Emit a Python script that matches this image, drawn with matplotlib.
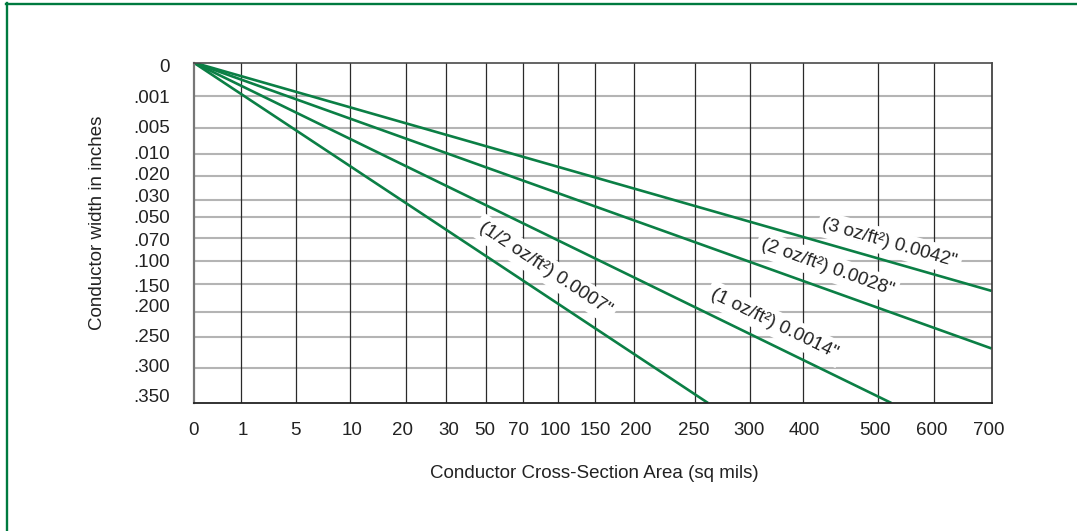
import numpy as np
import matplotlib
matplotlib.use("Agg")
import matplotlib.pyplot as plt
from matplotlib.lines import Line2D

plt.rcParams['font.family'] = ['Liberation Sans', 'DejaVu Sans']

# ---------------- data ----------------
x_values = [0, 1, 5, 10, 20, 30, 50, 70, 100, 150, 200, 250, 300, 400, 500, 600, 700]
x_labels = [str(v) for v in x_values]
y_values = [0, .001, .005, .010, .020, .030, .050, .070, .100, .150, .200, .250, .300, .350]
y_labels = ["0", ".001", ".005", ".010", ".020", ".030", ".050", ".070",
            ".100", ".150", ".200", ".250", ".300", ".350"]

series_names = ['(1/2 oz/ft²) 0.0007"', '(1 oz/ft²) 0.0014"',
                '(2 oz/ft²) 0.0028"', '(3 oz/ft²) 0.0042"']
series_x = [[0, 262], [0, 523], [0, 700], [0, 700]]
series_y = [[0, .350], [0, .350], [0, .268], [0, .162]]

# ---------------- layout (uneven chart scales, in plot pixels) ----------------
x_grid_pos = [0, 47.5, 102.5, 156, 212.1, 252.1, 292, 329.2, 364.3, 401.3, 440.7,
              501.3, 556.1, 609.2, 684.9, 740.7, 797.9]
x_label_pos = [0, 49.3, 102, 158.8, 208.7, 255.2, 291.4, 324.8, 361.9, 401.3, 442.4,
               499.9, 555.4, 610.9, 681.4, 737.9, 795.1]
y_grid_pos = [0, 33.5, 65.8, 91.2, 113.2, 137.5, 154.8, 175.5, 198.2, 221.8, 249.2,
              274.8, 305.8, 340.5]
y_label_pos = [3.2, 34.2, 64.2, 90.2, 111.5, 132.5, 154.2, 176.8, 197.8, 222.5, 243.5,
               273.5, 303.5, 333.5]
label_frac = [0.66, 0.82, 0.785, 0.866]
label_off_px = [22, 20, 21, 18]

W, H = 1077, 531
fig = plt.figure(figsize=(W / 100, H / 100), dpi=100)
fig.patch.set_facecolor('white')
left, right, top, bottom = 193.5, 991.5, 62.5, 403
ax = fig.add_axes([left / W, 1 - bottom / H, (right - left) / W, (bottom - top) / H])


def xf(v):
    return np.interp(v, x_values, x_grid_pos)


def xi(p):
    return np.interp(p, x_grid_pos, x_values)


def yf(v):
    return np.interp(v, y_values, y_grid_pos)


def yi(p):
    return np.interp(p, y_grid_pos, y_values)


ax.set_xscale('function', functions=(xf, xi))
ax.set_yscale('function', functions=(yf, yi))
ax.set_xlim(x_values[0], x_values[-1])
ax.set_ylim(y_values[-1], y_values[0])

# grid
for v in y_values[1:-1]:
    ax.axhline(v, color='#b4b4b4', lw=1.5, zorder=0.8)
for v in x_values[1:-1]:
    ax.axvline(v, color='#2a2a2a', lw=0.9, zorder=1)

# series lines
green = '#0b7f45'
for xs, ys in zip(series_x, series_y):
    ax.plot(xs, ys, color=green, lw=1.9, zorder=3, solid_capstyle='butt')

# ticks
ax.set_xticks(xi(np.array(x_label_pos)))
ax.set_xticklabels(x_labels)
ax.set_yticks(yi(np.array(y_label_pos)))
ax.set_yticklabels(y_labels)
ax.minorticks_off()
ax.tick_params(axis='both', length=0, labelsize=13.5, colors='#222222')
ax.tick_params(axis='x', pad=14)
ax.tick_params(axis='y', pad=17)

# spines
ax.spines['left'].set_color('#777777')
ax.spines['left'].set_linewidth(1.6)
ax.spines['top'].set_color('#4a4a4a')
ax.spines['top'].set_linewidth(1.2)
ax.spines['right'].set_color('#333333')
ax.spines['right'].set_linewidth(1.2)
ax.spines['bottom'].set_color('#222222')
ax.spines['bottom'].set_linewidth(1.3)
for s in ax.spines.values():
    s.set_zorder(4)

# axis labels
ax.set_xlabel('Conductor Cross-Section Area (sq mils)', fontsize=13.5, color='#222222')
ax.xaxis.set_label_coords((594 - left) / (right - left), (bottom - 473.3) / (bottom - top))
ax.xaxis.label.set_va('center')
ax.set_ylabel('Conductor width in inches', fontsize=13.5, color='#222222')
ax.yaxis.set_label_coords((98 - left) / (right - left), (bottom - 222.5) / (bottom - top))
ax.yaxis.label.set_va('center')

# line labels
for name, xs, ys, fr, off in zip(series_names, series_x, series_y, label_frac, label_off_px):
    p0 = ax.transData.transform((xs[0], ys[0]))
    p1 = ax.transData.transform((xs[1], ys[1]))
    d = p1 - p0
    ang = np.degrees(np.arctan2(d[1], d[0]))
    u = d / np.hypot(*d)
    n = np.array([-u[1], u[0]])
    if n[1] < 0:
        n = -n
    pt = p0 + fr * d
    xy = ax.transData.inverted().transform(pt)
    offpt = n * off * 72 / 100
    ax.annotate(name, xy=xy, xytext=(offpt[0], offpt[1]), textcoords='offset points',
                rotation=ang, rotation_mode='anchor', ha='center', va='center',
                fontsize=13.5, color='#222222', zorder=2,
                bbox=dict(boxstyle='square,pad=0.25', fc='white', ec='none'))

# green frame (top and left)
fig.add_artist(Line2D([6 / W, 1], [1 - 3.8 / H, 1 - 3.8 / H], color='#007a3f', lw=1.7,
                      transform=fig.transFigure))
fig.add_artist(Line2D([7 / W, 7 / W], [0, 1 - 3 / H], color='#007a3f', lw=1.7,
                      transform=fig.transFigure))

fig.savefig('out.png', dpi=100)
